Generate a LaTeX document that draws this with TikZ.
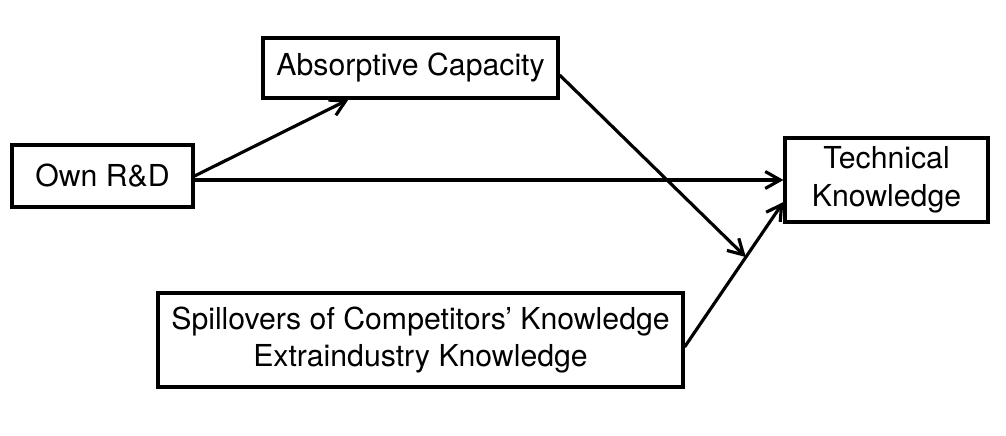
\documentclass[tikz,border=0pt]{standalone}
\usepackage{fontspec}
\setmainfont{TeX Gyre Heros}
\usetikzlibrary{arrows.meta,calc}
\begin{document}
\begin{tikzpicture}[line width=1.8pt, >={Straight Barb[length=3mm,width=3.4mm]},
        font=\fontsize{17.2}{21.5}\selectfont,
        box/.style={draw, align=center, inner sep=0pt}]

        \useasboundingbox (0,0) rectangle (20.12,8.72);

        % --- Blocchi ---
        \node[box, minimum width=3.62cm, minimum height=1.24cm] (rd) at (2.05,5.2) {Own R\&D};
        \node[box, minimum width=5.9cm, minimum height=1.2cm] (absorb) at (8.21,7.36) {Absorptive Capacity};
        \node[box, minimum width=4.06cm, minimum height=1.68cm] (tech) at (17.73,5.12) {Technical\\Knowledge};
        \node[box, minimum width=10.5cm, minimum height=1.88cm] (spill) at (8.41,1.92)
            {Spillovers of Competitors' Knowledge\\Extraindustry Knowledge};

        % --- Punti di arrivo sulle frecce ---
        \coordinate (techin) at ($(tech.west)+(0,-0.44)$);
        \coordinate (spillout) at ($(spill.east)+(0,-0.14)$);
        \coordinate (join) at ($(spillout)!0.62!(techin)$);

        % --- Frecce ---
        \draw[->] (rd.east) -- ($(absorb.south west)+(1.74,0)$);
        \draw[->] (rd.east |- tech.west) -- (tech.west);
        \draw[->] ($(absorb.east)+(0,-0.14)$) -- (join);
        \draw[->] (spillout) -- (techin);

    \end{tikzpicture}
\end{document}
